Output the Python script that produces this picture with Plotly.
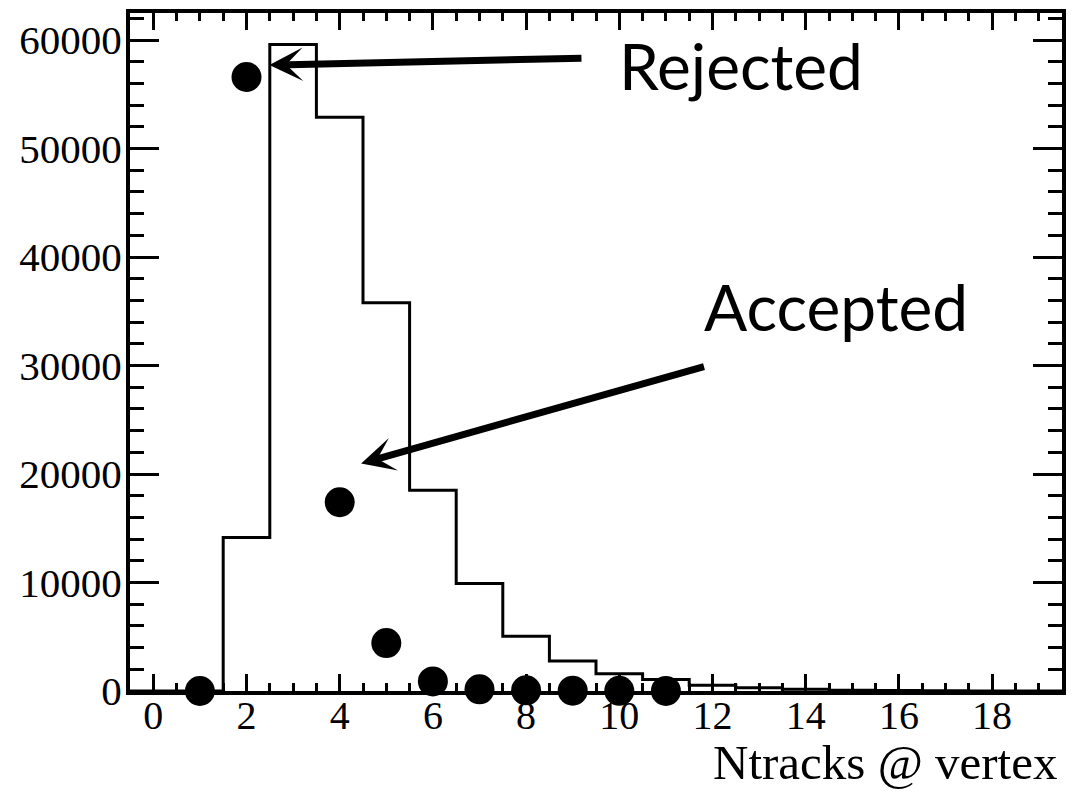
import plotly.graph_objects as go

# ---- data ----
bin_centers = list(range(0, 20))  # Ntracks bins, width 1
hist_counts = [0, 0, 14150, 59600, 52900, 35800, 18500, 9900, 5050, 2770,
               1600, 1050, 530, 300, 150, 80, 40, 20, 0, 0]

dot_x = [1, 2, 4, 5, 6, 7, 8, 9, 10, 11]
dot_y = [0, 56600, 17400, 4420, 880, 150, 60, 30, 15, 5]

x_ticks = [0, 2, 4, 6, 8, 10, 12, 14, 16, 18]
y_ticks = [0, 10000, 20000, 30000, 40000, 50000, 60000]

# histogram as steps from bin edges
edges = [c - 0.5 for c in bin_centers] + [bin_centers[-1] + 0.5]
step_y = hist_counts + [hist_counts[-1]]

fig = go.Figure()
fig.add_trace(go.Scatter(
    x=edges, y=step_y, mode="lines", line=dict(shape="hv", color="black", width=3),
    hoverinfo="skip", showlegend=False))
fig.add_trace(go.Scatter(
    x=dot_x, y=dot_y, mode="markers", marker=dict(color="black", size=30),
    cliponaxis=False, showlegend=False))

serif = "Liberation Serif"
tick_font = dict(family=serif, size=40, color="black")

fig.update_xaxes(
    range=[-0.5, 19.5], tickvals=x_ticks, ticktext=[str(v) for v in x_ticks],
    showline=True, linewidth=4, linecolor="black", mirror="allticks",
    ticks="inside", ticklen=17, tickwidth=3, tickcolor="black",
    minor=dict(dtick=0.5, ticks="inside", ticklen=8, tickwidth=3, tickcolor="black"),
    showgrid=False, zeroline=False, tickfont=tick_font, ticklabelstandoff=-14)
fig.update_yaxes(
    range=[0, 62500], tickvals=y_ticks, ticktext=[str(v) for v in y_ticks],
    showline=True, linewidth=4, linecolor="black", mirror="allticks",
    ticks="inside", ticklen=29, tickwidth=3, tickcolor="black",
    minor=dict(dtick=2000, ticks="inside", ticklen=14, tickwidth=3, tickcolor="black"),
    showgrid=False, zeroline=False, tickfont=dict(tick_font, size=41), ticklabelstandoff=-4)

label_font = dict(family="Lato, Open Sans, sans-serif", size=64, color="black")

fig.add_annotation(x=2.49, y=57700, ax=9.22, ay=58340, axref="x", ayref="y",
                   xref="x", yref="y", text="", showarrow=True,
                   arrowhead=3, arrowwidth=7, arrowsize=0.8, arrowcolor="black", standoff=0)
fig.add_annotation(x=4.46, y=20980, ax=11.85, ay=29950, axref="x", ayref="y",
                   xref="x", yref="y", text="", showarrow=True,
                   arrowhead=3, arrowwidth=7, arrowsize=0.8, arrowcolor="black", standoff=0)
fig.add_annotation(x=9.95, y=57700, xref="x", yref="y", text="Rejected",
                   showarrow=False, xanchor="left", yanchor="middle", font=label_font)
fig.add_annotation(x=11.77, y=35400, xref="x", yref="y", text="Accepted",
                   showarrow=False, xanchor="left", yanchor="middle", font=label_font)
fig.add_annotation(x=1, y=-0.106, xref="paper", yref="paper", text="Ntracks @ vertex",
                   showarrow=False, xanchor="right", yanchor="middle", xshift=-3,
                   font=dict(family=serif, size=49, color="black"))

fig.update_layout(
    width=1072, height=791, margin=dict(l=130, r=6, t=13, b=100),
    paper_bgcolor="white", plot_bgcolor="white", showlegend=False)

fig.write_html("out.html")
